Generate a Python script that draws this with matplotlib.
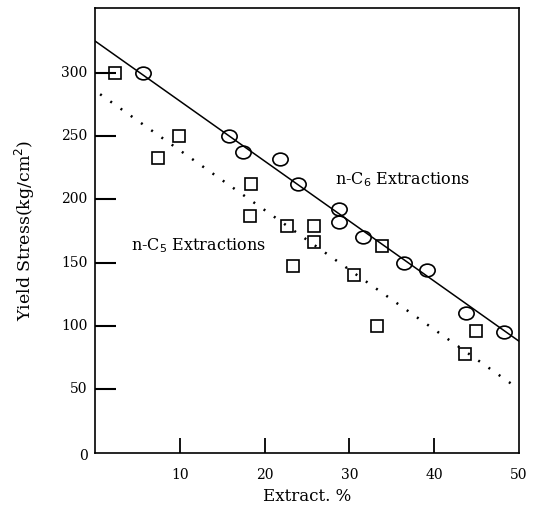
import matplotlib
matplotlib.use("Agg")
import matplotlib.pyplot as plt
from matplotlib.path import Path
from matplotlib.transforms import Affine2D

# n-C6 extractions (circles)
c6_x = [5.7, 15.8, 17.5, 21.8, 23.9, 28.8, 28.8, 31.6, 36.4, 39.1, 43.7, 48.2]
c6_y = [300, 250, 237, 232, 212, 192, 182, 170, 150, 144, 110, 95]

# n-C5 extractions (squares)
c5_x = [2.3, 7.4, 9.9, 18.4, 18.3, 22.6, 25.8, 25.8, 23.4, 30.5, 33.8, 33.2, 44.9, 43.6]
c5_y = [300, 233, 250, 212, 187, 179, 179, 166, 147, 140, 163, 100, 96, 78]

# fitted lines
c6_fit_x = [0, 50]
c6_fit_y = [325, 88]
c5_fit_x = [0.6, 49.6]
c5_fit_y = [283, 52]

xticks = [10, 20, 30, 40]
xlabels = [10, 20, 30, 40, 50]
yticks = [50, 100, 150, 200, 250, 300]
ylabels = [0, 50, 100, 150, 200, 250, 300]

plt.rcParams['font.family'] = ['DejaVu Serif']

fig = plt.figure(figsize=(5.39, 5.05), dpi=100)
ax = fig.add_axes([0.1763, 0.1036, 0.963 - 0.1763, 0.984 - 0.1036])

ellipse = Path.unit_circle().transformed(Affine2D().scale(1.2, 1.0))

ax.plot(c6_fit_x, c6_fit_y, color='black', lw=1.1)
ax.plot(c5_fit_x, c5_fit_y, color='black', lw=1.8, linestyle=(0, (0.8, 4.2)))
ax.plot(c6_x, c6_y, linestyle='none', marker=ellipse, markersize=11,
        markerfacecolor='none', markeredgecolor='black', markeredgewidth=1.2)
ax.plot(c5_x, c5_y, linestyle='none', marker='s', markersize=9,
        markerfacecolor='none', markeredgecolor='black', markeredgewidth=1.2)

ax.text(28.3, 212, 'n-C$_6$ Extractions', fontsize=11.5)
ax.text(4.2, 160, 'n-C$_5$ Extractions', fontsize=11.5)

ax.set_xlim(0, 50)
ax.set_ylim(0, 351)

ax.set_xticks(xticks)
ax.set_xticklabels([])
ax.set_yticks(yticks)
ax.set_yticklabels([])
ax.tick_params(axis='x', direction='in', length=11, width=1.3)
ax.tick_params(axis='y', direction='in', length=15, width=1.5)

for v in xlabels:
    ax.text(v, -12, str(v), ha='center', va='top', fontsize=10)
for v in ylabels:
    ax.text(-0.9, v - (3 if v == 0 else 0), str(v), ha='right', va='center', fontsize=10)

for s in ax.spines.values():
    s.set_linewidth(1.2)

ax.set_xlabel('Extract. %', fontsize=12, labelpad=22)
ax.set_ylabel('Yield Stress(kg/cm$^2$)', fontsize=12.5, labelpad=38)

fig.savefig('out.png', dpi=100)
